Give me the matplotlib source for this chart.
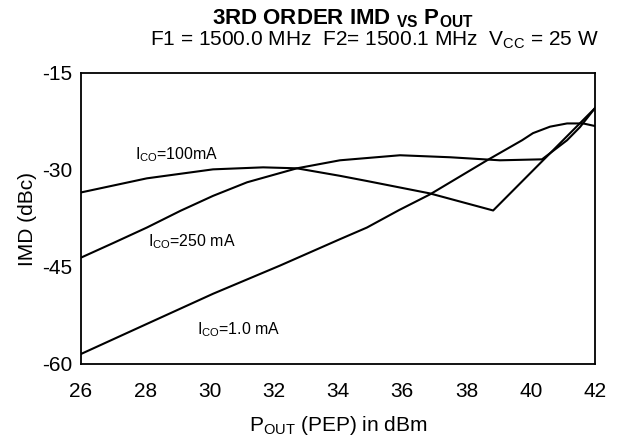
import matplotlib
matplotlib.use("Agg")
import matplotlib.pyplot as plt

plt.rcParams['font.family'] = ['Liberation Sans', 'DejaVu Sans']
plt.rcParams['mathtext.fontset'] = 'custom'
plt.rcParams['mathtext.rm'] = 'Liberation Sans'
plt.rcParams['mathtext.it'] = 'Liberation Sans:italic'
plt.rcParams['mathtext.bf'] = 'Liberation Sans:bold'
plt.rcParams['axes.unicode_minus'] = False

# Data
x_100 = [26.0, 28.05, 30.11, 31.67, 32.72, 34.06, 34.90, 36.86, 38.83, 42.0]
y_100 = [-33.47, -31.29, -29.90, -29.59, -29.74, -30.90, -31.70, -33.62, -36.26, -20.43]

x_250 = [26.0, 27.0, 28.05, 29.1, 30.11, 31.17, 32.72, 34.06, 35.93, 37.49, 39.04, 40.35, 40.60, 41.13, 41.53, 42.0]
y_250 = [-43.55, -41.3, -38.90, -36.3, -34.0, -31.9, -29.74, -28.50, -27.72, -28.03, -28.50, -28.35, -27.41, -25.40, -23.38, -20.43]

x_1 = [26.0, 28.05, 30.11, 32.19, 34.06, 34.90, 35.9, 36.86, 38.64, 39.73, 40.07, 40.60, 41.13, 41.63, 42.0]
y_1 = [-58.45, -53.80, -49.14, -44.79, -40.7, -38.9, -36.2, -33.78, -28.50, -25.40, -24.3, -23.3, -22.8, -22.8, -23.2]

x_ticks = [26, 28, 30, 32, 34, 36, 38, 40, 42]
y_ticks = [-15, -30, -45, -60]

fig = plt.figure(figsize=(6.18, 4.41), dpi=100)
ax = fig.add_axes([81/618, 1 - 364/441, (595-81)/618, (364-73)/441])

for xs, ys in [(x_100, y_100), (x_250, y_250), (x_1, y_1)]:
    ax.plot(xs, ys, color='black', lw=1.5, solid_joinstyle='round')

ax.set_xlim(26, 42)
ax.set_ylim(-60, -15)
ax.set_xticks(x_ticks)
ax.set_yticks(y_ticks)
ax.tick_params(length=0, labelsize=15)
ax.tick_params(axis='x', pad=13)
ax.tick_params(axis='y', pad=6)
for s in ax.spines.values():
    s.set_linewidth(1.3)

ax.text(27.68, -27.7, r"I$_{\mathrm{CO}}$=100mA", fontsize=11.4, va='center', ha='left')
ax.text(28.09, -41.1, r"I$_{\mathrm{CO}}$=250 mA", fontsize=11.4, va='center', ha='left')
ax.text(29.61, -54.65, r"I$_{\mathrm{CO}}$=1.0 mA", fontsize=11.4, va='center', ha='left')

ax.set_xlabel(r"P$_{\mathrm{OUT}}$ (PEP) in dBm", fontsize=15, labelpad=9)
ax.set_ylabel("IMD (dBc)", fontsize=15, labelpad=4)

fig.text(343/618, 1 - 24/441, r"3RD ORDER IMD $_{\mathbf{VS}}$ P$_{\mathbf{OUT}}$",
         fontsize=16, fontweight='bold', ha='center', va='baseline')
fig.text(375/618, 1 - 46/441, r"F1 = 1500.0 MHz  F2= 1500.1 MHz  V$_{\mathrm{CC}}$ = 25 W",
         fontsize=15, ha='center', va='baseline')

fig.savefig("out.png", dpi=100)
